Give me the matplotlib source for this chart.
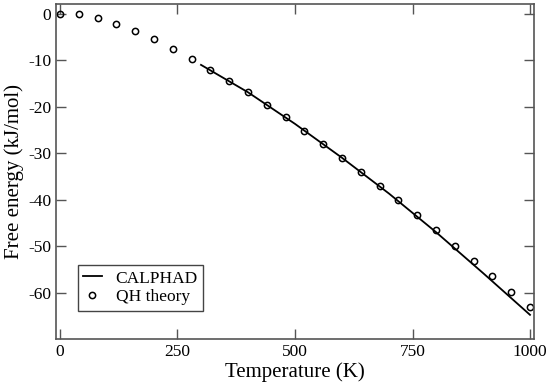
import matplotlib
matplotlib.use('Agg')
import matplotlib.pyplot as plt

# QH theory points
qh_T = [0, 40, 80, 120, 160, 200, 240, 280, 320, 360, 400, 440, 480,
        520, 560, 600, 640, 680, 720, 760, 800, 840, 880, 920, 960, 1000]
qh_G = [0.0, -0.15, -0.86, -2.15, -3.66, -5.5, -7.5, -9.7, -12.0, -14.4,
        -16.9, -19.6, -22.3, -25.2, -28.0, -31.0, -34.0, -37.1, -40.1,
        -43.4, -46.6, -49.9, -53.2, -56.5, -59.8, -63.2]

# CALPHAD curve
cal_T = [300, 400, 500, 600, 700, 800, 900, 1000]
cal_G = [-11.0, -16.9, -23.7, -31.0, -38.7, -47.0, -55.8, -64.8]

x_ticks = [0, 250, 500, 750, 1000]
y_ticks = [0, -10, -20, -30, -40, -50, -60]

plt.rcParams['font.family'] = ['Liberation Serif', 'DejaVu Serif']
plt.rcParams['axes.unicode_minus'] = False

fig = plt.figure(figsize=(5.5, 3.83), dpi=100)
ax = fig.add_axes([56 / 550, 1 - 339 / 383, 478 / 550, 335 / 383])

ax.plot(cal_T, cal_G, 'k-', lw=1.3, label='CALPHAD')
ax.plot(qh_T, qh_G, 'o', mfc='none', mec='black', ms=4.5, mew=1.1,
        label='QH theory')

ax.set_xlim(-8.5, 1008.5)
ax.set_ylim(-70, 2.1)
ax.set_xticks(x_ticks)
ax.set_yticks(y_ticks)
ax.tick_params(direction='in', length=7, width=1, labelsize=12.5,
               top=True, right=True, color='#555555')
for s in ax.spines.values():
    s.set_color('#555555')
    s.set_linewidth(1.2)

ax.set_xlabel('Temperature (K)', fontsize=15, labelpad=2)
ax.set_ylabel('Free energy (kJ/mol)', fontsize=15, labelpad=3)

leg = ax.legend(loc='lower left', bbox_to_anchor=(0.045, 0.085),
                fontsize=12.5, fancybox=False, framealpha=1,
                edgecolor='#444444', handlelength=1.1, borderpad=0.3,
                labelspacing=0.15, handletextpad=0.8, borderaxespad=0)
leg.get_frame().set_linewidth(1.0)

fig.savefig('out.png', dpi=100)
